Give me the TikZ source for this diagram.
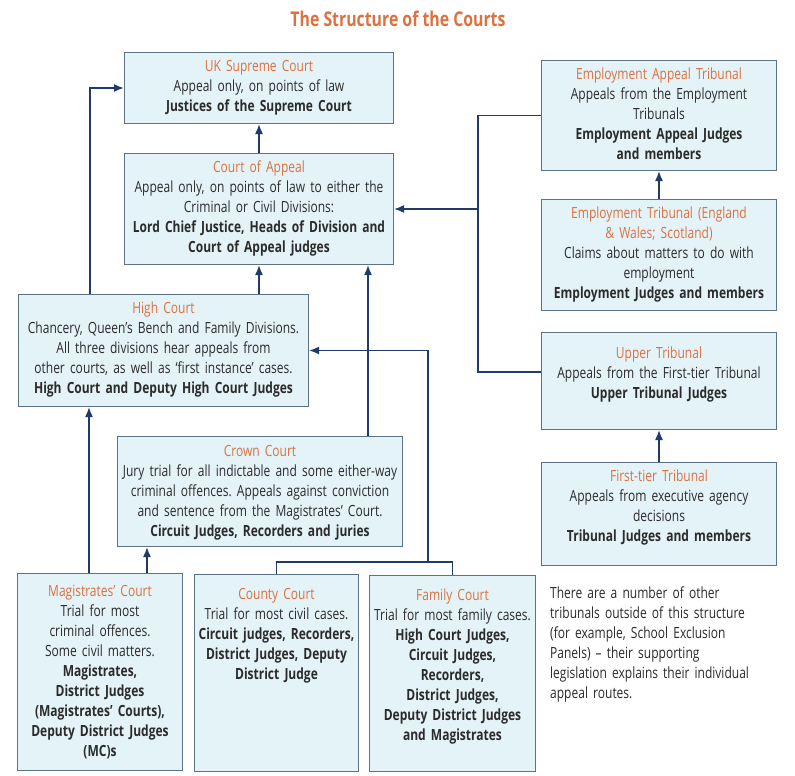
\documentclass[tikz,border=0pt]{standalone}
\usepackage{fontspec}
\setmainfont[FakeStretch=0.78]{Open Sans}
\usepackage{tikz}
\usetikzlibrary{arrows.meta}
\definecolor{courtfill}{HTML}{E4F3F8}
\definecolor{courtline}{HTML}{5B7385}
\definecolor{linkcol}{HTML}{1F3C68}
\definecolor{headcol}{HTML}{DD7140}
\definecolor{bodycol}{HTML}{2B2B2B}
\newcommand{\head}[1]{{\color{headcol}#1}}
\hyphenpenalty=10000
\frenchspacing
\tikzstyle{edge}=[
	-,
	draw=linkcol,
	line width=1.6pt
]
\tikzstyle{link}=[
	edge,
	-{Latex[length=10pt,width=8pt]}
]
\tikzstyle{court}=[
	draw=courtline,
	fill=courtfill,
	line width=1pt,
	anchor=north west,
	align=center,
	inner xsep=1pt,
	inner ysep=6pt,
	text height=13pt,
	text=bodycol,
	font=\fontsize{15.4}{20}\selectfont
]
\begin{document}
\begin{tikzpicture}[x=1pt, y=-1pt]
\useasboundingbox[fill=white] (0,0) rectangle (795,776);
\node[anchor=base, text=headcol, font=\fontsize{20.3}{24}\selectfont\bfseries] (title) at (398,27) {The Structure of the Courts};

% courts
\node[court, text width=267pt, text depth=46pt] (uksc) at (124,52) {\head{UK Supreme Court}\\Appeal only, on points of law\\\textbf{Justices of the Supreme Court}};
\node[court, text width=267pt, text depth=86pt] (coa) at (124,153) {\head{Court of Appeal}\\Appeal only, on points of law to either the\\Criminal or Civil Divisions:\\\textbf{Lord Chief Justice, Heads of Division and}\\\textbf{Court of Appeal judges}};
\node[court, text width=288pt, text depth=87pt] (hc) at (18,294) {\head{High Court}\\Chancery, Queen’s Bench and Family Divisions.\\All three divisions hear appeals from\\other courts, as well as ‘first instance’ cases.\\\textbf{High Court and Deputy High Court Judges}};
\node[court, text width=283pt, text height=14pt, text depth=84pt] (cc) at (117,436) {\head{Crown Court}\\Jury trial for all indictable and some either-way\\criminal offences. Appeals against conviction\\and sentence from the Magistrates’ Court.\\\textbf{Circuit Judges, Recorders and juries}};
\node[court, text width=163pt, text height=17pt, text depth=168pt] (mag) at (17,573) {\head{Magistrates’ Court}\\Trial for most\\criminal offences.\\Some civil matters.\\\textbf{Magistrates,}\\\textbf{District Judges}\\\textbf{(Magistrates’ Courts),}\\\textbf{Deputy District Judges}\\\textbf{(MC)s}};
\node[court, text width=162pt, text height=19pt, text depth=166pt] (county) at (194,574) {\head{County Court}\\Trial for most civil cases.\\\textbf{Circuit judges, Recorders,}\\\textbf{District Judges, Deputy}\\\textbf{District Judge}};
\node[court, text width=164pt, text height=19pt, text depth=165pt] (family) at (369,575) {\head{Family Court}\\Trial for most family cases.\\\textbf{High Court Judges,}\\\textbf{Circuit Judges,}\\\textbf{Recorders,}\\\textbf{District Judges,}\\\textbf{Deputy District Judges}\\\textbf{and Magistrates}};

% tribunals
\node[court, text width=233pt, text depth=85pt] (eat) at (541,60) {\head{Employment Appeal Tribunal}\\Appeals from the Employment\\Tribunals\\\textbf{Employment Appeal Judges}\\\textbf{and members}};
\node[court, text width=233pt, text depth=86pt] (et) at (541,199) {\head{Employment Tribunal (England}\\\head{\& Wales; Scotland)}\\Claims about matters to do with\\employment\\\textbf{Employment Judges and members}};
\node[court, text width=233pt, text height=20pt, text depth=65pt] (ut) at (541,332) {\head{Upper Tribunal}\\Appeals from the First-tier Tribunal\\\textbf{Upper Tribunal Judges}};
\node[court, text width=233pt, text depth=78pt] (ftt) at (541,462) {\head{First-tier Tribunal}\\Appeals from executive agency\\decisions\\\textbf{Tribunal Judges and members}};
\node[anchor=north west, align=left, text width=240pt, inner sep=0pt, text height=13pt, text=bodycol, font=\fontsize{15.4}{20}\selectfont] (note) at (550,585) {There are a number of other\\tribunals outside of this structure\\(for example, School Exclusion\\Panels) – their supporting\\legislation explains their individual\\appeal routes.};

% appeal routes
\coordinate (split) at (478,209);
\coordinate (join) at (428,562);
\draw[link] (coa) -- (uksc);
\draw[link] ([xshift=72pt]hc.north west) |- (uksc);
\draw[link] (hc.north -| coa) -- (coa);
\draw[link] ([xshift=251pt]cc.north west) -- ([xshift=251pt]cc.north west |- coa.south);
\draw[edge] (eat.west) -| (split) |- ([yshift=9pt]ut.west);
\draw[link] (split) -- (coa.east);
\draw[link] (et) -- (eat);
\draw[link] (ftt) -- (ut);
\draw[edge] (county.north) |- (join) -| (family.north);
\draw[link] (join) |- (hc.east);
\draw[link] ([xshift=72pt]mag.north west) -- ([xshift=72pt]mag.north west |- hc.south);
\draw[link] ([xshift=130pt]mag.north west) -- ([xshift=130pt]mag.north west |- cc.south);
\end{tikzpicture}
\end{document}
